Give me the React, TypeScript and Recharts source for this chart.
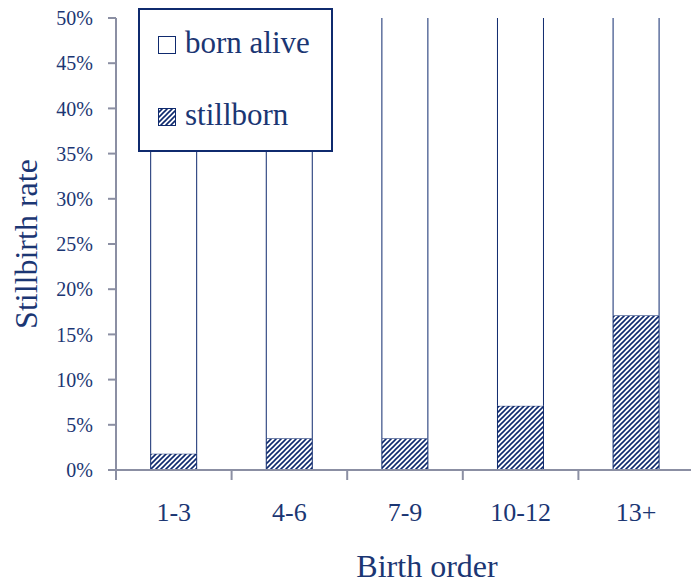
import React from 'react';
import { BarChart, Bar, XAxis, YAxis } from 'recharts';

const birthOrders = ['1-3', '4-6', '7-9', '10-12', '13+'];
const stillbornPct = [1.8, 3.5, 3.5, 7.1, 17.1];
const bornAlivePct = [98.2, 96.5, 96.5, 92.9, 82.9];
const yTicks = [0, 5, 10, 15, 20, 25, 30, 35, 40, 45, 50];
const legendItems = [
  { label: 'born alive', hatch: false },
  { label: 'stillborn', hatch: true },
];

const NAVY = '#1b3673';
const LINE = '#0f2a6e';
const AXIS = '#8b8fa3';
const FONT = '"Liberation Serif", "DejaVu Serif", serif';

const CHART_W = 694;
const Y_AXIS_W = 116;
// half a category band, used to put x tick marks between the bars
const HALF_BAND = (CHART_W - Y_AXIS_W) / birthOrders.length / 2;

const chartData = birthOrders.map((name, i) => ({
  name,
  stillborn: stillbornPct[i],
  bornAlive: bornAlivePct[i],
}));

function HatchDef({ id }: { id: string }) {
  return (
    <pattern id={id} patternUnits="userSpaceOnUse" width={5} height={5}>
      <rect width={5} height={5} fill="#fff" />
      <path d="M0,5 L5,0 M-1,1 L1,-1 M4,6 L6,4" stroke={LINE} strokeWidth={1.6} />
    </pattern>
  );
}

// open-topped bar: the top runs off the 50% axis, so only the sides are drawn
function OpenBar(props: any) {
  const { x, y, width, height } = props;
  if (!width || !height) return null;
  return (
    <g>
      <rect x={x} y={y} width={width} height={height} fill="#fff" />
      <path
        d={`M${x},${y + height} V${y} M${x + width},${y + height} V${y}`}
        stroke={LINE}
        strokeWidth={1}
        fill="none"
      />
    </g>
  );
}

function OrderTick(props: any) {
  const { x, y, payload } = props;
  const lx = x - HALF_BAND;
  return (
    <g>
      <line x1={lx} y1={y} x2={lx} y2={y + 10} stroke={AXIS} strokeWidth={2} />
      <text
        x={x}
        y={y + 51}
        textAnchor="middle"
        fill={NAVY}
        fontSize={26}
        fontFamily={FONT}
      >
        {payload.value}
      </text>
    </g>
  );
}

function LegendBox() {
  return (
    <svg
      width={196}
      height={146}
      style={{ position: 'absolute', left: 137, top: 7 }}
    >
      <defs>
        <HatchDef id="leg-hatch" />
      </defs>
      <rect x={2} y={2} width={193} height={142} fill="#fff" stroke={LINE} strokeWidth={2} />
      {legendItems.map((it, i) => (
        <g key={it.label} transform={`translate(0, ${i * 72})`}>
          <rect
            x={21.5}
            y={29.5}
            width={17}
            height={17}
            fill={it.hatch ? 'url(#leg-hatch)' : '#fff'}
            stroke={LINE}
            strokeWidth={1}
          />
          <text x={48} y={46} fill={NAVY} fontSize={31} fontFamily={FONT}>
            {it.label}
          </text>
        </g>
      ))}
    </svg>
  );
}

export default function App() {
  return (
    <div
      style={{
        position: 'absolute',
        left: 0,
        top: 0,
        width: 691,
        height: 583,
        overflow: 'hidden',
        background: '#fff',
      }}
    >
      <BarChart
        width={CHART_W}
        height={583}
        data={chartData}
        margin={{ top: 18, right: 0, left: 0, bottom: 0 }}
        barCategoryGap="30%"
      >
        <defs>
          <HatchDef id="hatch" />
        </defs>
        <YAxis
          width={Y_AXIS_W}
          domain={[0, 50]}
          ticks={yTicks}
          allowDataOverflow
          tickFormatter={(v: number) => `${v}%`}
          axisLine={{ stroke: AXIS, strokeWidth: 2 }}
          tickLine={{ stroke: AXIS, strokeWidth: 2 }}
          tickSize={8}
          tickMargin={15}
          tick={{ fill: NAVY, fontSize: 20, fontFamily: FONT }}
          label={{
            value: 'Stillbirth rate',
            angle: -90,
            position: 'insideLeft',
            offset: 26,
            style: { textAnchor: 'middle', fill: NAVY, fontSize: 32, fontFamily: FONT },
          }}
        />
        <XAxis
          dataKey="name"
          height={113}
          axisLine={{ stroke: AXIS, strokeWidth: 2 }}
          tickLine={false}
          tickSize={0}
          tickMargin={0}
          tick={<OrderTick />}
          interval={0}
          label={{
            value: 'Birth order',
            position: 'insideBottom',
            offset: 6,
            dx: 22,
            style: { fill: NAVY, fontSize: 32, fontFamily: FONT },
          }}
        />
        <Bar
          dataKey="stillborn"
          stackId="a"
          fill="url(#hatch)"
          stroke={LINE}
          strokeWidth={1}
          isAnimationActive={false}
        />
        <Bar
          dataKey="bornAlive"
          stackId="a"
          shape={<OpenBar />}
          isAnimationActive={false}
        />
      </BarChart>
      <LegendBox />
    </div>
  );
}
